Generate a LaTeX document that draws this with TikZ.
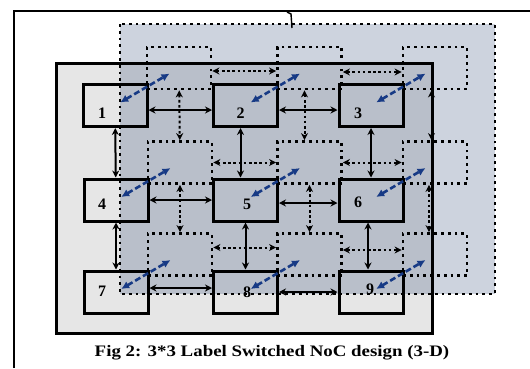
\documentclass[tikz,border=0pt]{standalone}
\usepackage{fontspec}
\setmainfont{Liberation Serif}
\usetikzlibrary{arrows.meta}
\definecolor{Navy}{HTML}{173A85}
\definecolor{Mist}{HTML}{CDD3DE}
\definecolor{Slate}{HTML}{B9BFCA}
\definecolor{Pale}{HTML}{E6E6E6}

\begin{document}
\begin{tikzpicture}[x=1pt,y=-1pt,
 fbox/.style={draw,line width=3pt,minimum width=64pt,minimum height=42pt,inner sep=0pt},
 bbox/.style={draw,line width=2.8pt,dash pattern=on 2.8pt off 4pt,minimum width=64pt,minimum height=42pt,inner sep=0pt},
 num/.style={font=\bfseries\fontsize{16}{16}\selectfont,inner sep=0pt},
 arr/.style={{Stealth[length=7pt,width=7pt]}-{Stealth[length=7pt,width=7pt]},line width=2pt},
 darr/.style={arr,dash pattern=on 2.6pt off 2.6pt},
 link/.style={{Latex[length=8pt,width=8pt]}-{Latex[length=8pt,width=8pt]},line width=2.6pt,Navy,
   dash pattern=on 6pt off 3pt,shorten <=6pt,shorten >=11pt}]
 \useasboundingbox (0,0) rectangle (530,368);
 \fill[Mist] (120,24) rectangle (495,294);
 \fill[Pale] (56,63) rectangle (432,333);
 \fill[Slate] (120,63) rectangle (432,294);
 \draw[line width=3pt] (56,63) rectangle (432,333);
 \draw[line width=2.8pt,dash pattern=on 2.8pt off 4pt] (120,24) rectangle (495,294);
 \draw[line width=2.8pt] (14,368) -- (14,11) -- (530,11);
 \draw[line width=1.4pt] (287,12) -- (291,14) -- (292,28);

 \node[fbox] (f1) at (115,105.5) {};
 \node[fbox] (f2) at (245.5,105.5) {};
 \node[fbox] (f3) at (371,105.5) {};
 \node[fbox] (f4) at (116,200) {};
 \node[fbox] (f5) at (245.5,200) {};
 \node[fbox] (f6) at (371,200) {};
 \node[fbox] (f7) at (116,292) {};
 \node[fbox] (f8) at (245.5,292) {};
 \node[fbox] (f9) at (371,292) {};
 \node[bbox] (b1) at ([shift={(64,-37.5)}]f1.center) {};
 \node[bbox] (b2) at ([shift={(64,-37.5)}]f2.center) {};
 \node[bbox] (b3) at ([shift={(64,-37.5)}]f3.center) {};
 \node[bbox] (b4) at ([shift={(64,-37.5)}]f4.center) {};
 \node[bbox] (b5) at ([shift={(64,-37.5)}]f5.center) {};
 \node[bbox] (b6) at ([shift={(64,-37.5)}]f6.center) {};
 \node[bbox] (b7) at ([shift={(64,-37.5)}]f7.center) {};
 \node[bbox] (b8) at ([shift={(64,-37.5)}]f8.center) {};
 \node[bbox] (b9) at ([shift={(64,-37.5)}]f9.center) {};
 \node[num] (n1) at ([shift={(-13,7.5)}]f1.center) {1};
 \node[num] (n2) at ([shift={(-5,7.5)}]f2.center) {2};
 \node[num] (n3) at ([shift={(-13,7.5)}]f3.center) {3};
 \node[num] (n4) at ([shift={(-14,4)}]f4.center) {4};
 \node[num] (n5) at ([shift={(1.5,4)}]f5.center) {5};
 \node[num] (n6) at ([shift={(-13,2)}]f6.center) {6};
 \node[num] (n7) at ([shift={(-14,-1)}]f7.center) {7};
 \node[num] (n8) at ([shift={(1.5,0)}]f8.center) {8};
 \node[num] (n9) at ([shift={(-1,-3)}]f9.center) {9};

 \draw[arr] ([yshift=-4.5pt]f1.east) -- ([yshift=-4.5pt]f2.west);
 \draw[arr] ([yshift=-4.5pt]f2.east) -- ([yshift=-4.5pt]f3.west);
 \draw[arr] (f4) -- (f5); \draw[arr] ([yshift=-3pt]f5.east) -- ([yshift=-3pt]f6.west);
 \draw[arr] ([yshift=4pt]f7.east) -- ([yshift=4pt]f8.west); \draw[arr] (f8) -- (f9);
 \draw[arr] (f1) -- (f4); \draw[arr] (f4) -- (f7);
 \draw[arr] ([xshift=-5pt]f2.south) -- ([xshift=-5pt]f5.north); \draw[arr] (f5) -- (f8);
 \draw[arr] (f3) -- (f6); \draw[arr] ([xshift=-3pt]f6.south) -- ([xshift=-3pt]f9.north);

 \draw[darr] ([yshift=-3pt]b1.east) -- ([yshift=-3pt]b2.west);
 \draw[darr] ([yshift=-4pt]b2.east) -- ([yshift=-4pt]b3.west);
 \draw[darr] (b4) -- (b5); \draw[darr] (b5) -- (b6);
 \draw[darr] ([yshift=7pt]b7.east) -- ([yshift=7pt]b8.west);
 \draw[darr] ([yshift=4.5pt]b8.east) -- ([yshift=4.5pt]b9.west);
 \draw[darr] (b1) -- (b4); \draw[darr] (b4) -- (b7);
 \draw[darr] ([xshift=-5pt]b2.south) -- ([xshift=-5pt]b5.north); \draw[darr] (b5) -- (b8);
 \draw[darr] ([xshift=-3.5pt]b3.south) -- ([xshift=-3.5pt]b6.north);
 \draw[darr] ([xshift=-6pt]b6.south) -- ([xshift=-6pt]b9.north);

 \draw[link] (f1.center) -- (b1.center); \draw[link] (f2.center) -- (b2.center);
 \draw[link] (f3.center) -- (b3.center); \draw[link] (f4.center) -- (b4.center);
 \draw[link] (f5.center) -- (b5.center); \draw[link] (f6.center) -- (b6.center);
 \draw[link] (f7.center) -- (b7.center); \draw[link] (f8.center) -- (b8.center);
 \draw[link] (f9.center) -- (b9.center);

 \node[font=\bfseries\fontsize{16}{16}\selectfont,xscale=1.18,transform shape] (cap) at (272,353)
   {Fig 2: 3*3 Label Switched NoC design (3-D)};
\end{tikzpicture}
\end{document}
